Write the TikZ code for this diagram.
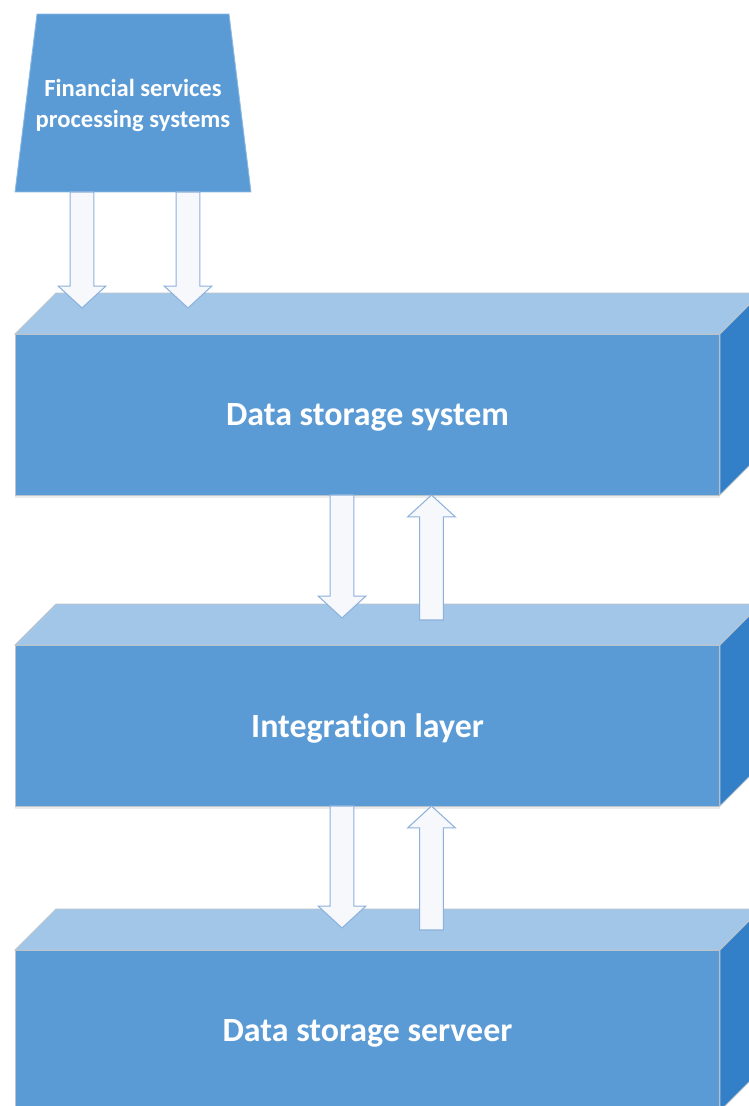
\documentclass[tikz,border=0pt]{standalone}
\usepackage{fontspec}
\setmainfont[Ligatures=NoCommon]{Carlito}
\usetikzlibrary{calc, shadows}

\definecolor{frontblue}{HTML}{5B9BD5}
\definecolor{topblue}{HTML}{A2C6E8}
\definecolor{sideblue}{HTML}{3380C8}
\definecolor{edgegray}{HTML}{BCC4CC}
\definecolor{arrowline}{HTML}{8DB1DD}
\definecolor{arrowfill}{HTML}{F6F8FC}

% hollow block arrow from #1 (tail) to #2 (tip), vertical
\newcommand{\flow}[2]{%
  \draw[flowarrow] let \p1=(#1), \p2=(#2), \n1={ifthenelse(\y1>\y2,1,-1)} in
    (\x1-6.8pt,\y1) -- (\x1-6.8pt,\y2+\n1*12.5pt) -- (\x1-13.6pt,\y2+\n1*12.5pt)
    -- (\x1,\y2) -- (\x1+13.6pt,\y2+\n1*12.5pt) -- (\x1+6.8pt,\y2+\n1*12.5pt)
    -- (\x1+6.8pt,\y1) -- cycle;}

\begin{document}
\begin{tikzpicture}[
  x=0.02cm, y=0.02cm,
  layer/.style={rectangle, fill=frontblue, draw=edgegray, line width=0.5pt,
    minimum width=14.1cm, minimum height=3.22cm, outer sep=0pt, text=white,
    text depth=0pt, font=\bfseries\fontsize{19.3}{23}\selectfont,
    drop shadow={shadow xshift=0pt, shadow yshift=-2pt, opacity=0.15, fill=gray}},
  source/.style={rectangle, minimum width=4.72cm, minimum height=3.56cm,
    inner sep=0pt, outer sep=0pt},
  srctext/.style={text=white, align=center,
    font=\bfseries\fontsize{14}{17.6}\selectfont},
  trapface/.style={fill=frontblue, draw=frontblue!70!white, line width=0.5pt},
  topface/.style={fill=topblue, draw=edgegray, line width=0.5pt},
  sideface/.style={fill=sideblue, draw=edgegray, line width=0.5pt},
  flowarrow/.style={draw=arrowline, fill=arrowfill, line width=0.6pt, line join=miter}
]
\path[use as bounding box, clip] (0,0) rectangle (749,1106);

% Nodes
\node[source] (trap) at (133,1003) {};
\draw[trapface] (trap.south west) -- ($(trap.north west)+(22,0)$)
  -- ($(trap.north east)+(-22,0)$) -- (trap.south east) -- cycle;
\node[srctext, yshift=-1.5pt] (traptext) at (trap.center) {Financial services\\processing systems};

\node[layer] (store) at (367.5,691.5) {Data storage system};
\node[layer] (integ) at (367.5,380.5) {Integration layer};
\node[layer] (server) at (367.5,75.5) {Data storage serveer};

% 3D faces
\foreach \b in {store, integ, server} {
  \draw[topface] (\b.north west) -- ++(41,41) -- ($(\b.north east)+(41,41)$)
    -- (\b.north east) -- cycle;
  \draw[sideface] (\b.north east) -- ++(41,41) -- ($(\b.south east)+(41,41)$)
    -- (\b.south east) -- cycle;
}

% Arrow ends
\coordinate (in1) at (82,798);
\coordinate (in2) at (188,798);
\coordinate (dn1) at (342,488);
\coordinate (up1) at (431.5,486);
\coordinate (dn2) at (342,178);
\coordinate (up2) at (431.5,176);

% Arrows
\flow{in1 |- trap.south}{in1}
\flow{in2 |- trap.south}{in2}
\flow{dn1 |- store.south}{dn1}
\flow{up1}{up1 |- store.south}
\flow{dn2 |- integ.south}{dn2}
\flow{up2}{up2 |- integ.south}

\end{tikzpicture}
\end{document}
